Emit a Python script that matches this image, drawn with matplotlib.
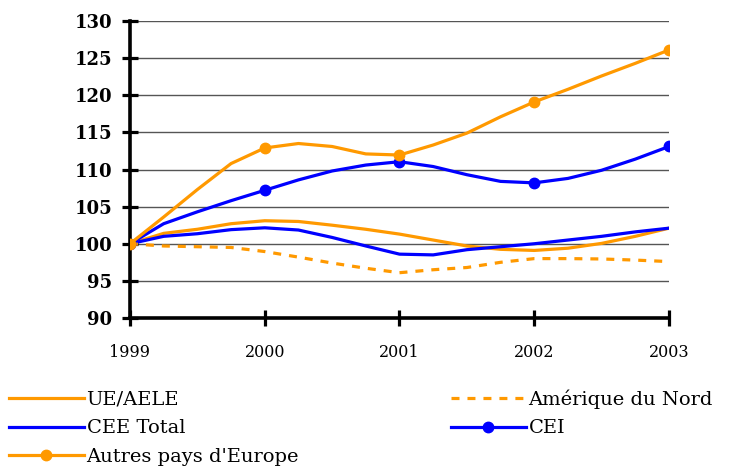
import matplotlib
matplotlib.use("Agg")
import matplotlib.pyplot as plt

# quarterly positions (markers only at whole years)
periods = [1999.0, 1999.25, 1999.5, 1999.75,
           2000.0, 2000.25, 2000.5, 2000.75,
           2001.0, 2001.25, 2001.5, 2001.75,
           2002.0, 2002.25, 2002.5, 2002.75,
           2003.0]
year_ticks = [1999, 2000, 2001, 2002, 2003]

ue_aele = [100.0, 101.4, 101.95, 102.7,
           103.1, 103.0, 102.5, 101.95,
           101.3, 100.5, 99.7, 99.25,
           99.1, 99.4, 100.05, 101.0,
           102.1]
amerique_nord = [100.0, 99.7, 99.6, 99.5,
                 98.95, 98.2, 97.4, 96.7,
                 96.1, 96.5, 96.8, 97.5,
                 98.0, 98.0, 97.95, 97.8,
                 97.6]
cee_total = [100.0, 101.0, 101.35, 101.9,
             102.15, 101.85, 100.85, 99.7,
             98.6, 98.5, 99.2, 99.6,
             100.0, 100.5, 101.0, 101.6,
             102.1]
cei = [100.0, 102.7, 104.3, 105.8,
       107.2, 108.6, 109.8, 110.6,
       111.05, 110.4, 109.3, 108.4,
       108.2, 108.8, 109.9, 111.4,
       113.1]
autres_europe = [100.0, 103.6, 107.3, 110.8,
                 112.9, 113.5, 113.1, 112.1,
                 111.95, 113.3, 114.9, 117.1,
                 119.1, 120.8, 122.6, 124.3,
                 126.1]

ORANGE = "#FF9900"
BLUE = "#0000FF"

plt.rcParams["font.family"] = ["DejaVu Serif", "DejaVu Sans"]

fig = plt.figure(figsize=(7.31, 4.70), dpi=100)
ax = fig.add_axes([0.1778, 0.3234, 0.7374, 0.6319])

lw = 2.3
ax.plot(periods, ue_aele, color=ORANGE, lw=lw, label="UE/AELE", zorder=3)
ax.plot(periods, cee_total, color=BLUE, lw=lw, label="CEE Total", zorder=3)
ax.plot(periods, autres_europe, color=ORANGE, lw=lw, marker="o", markersize=7.5,
        markevery=4, label="Autres pays d'Europe", zorder=6)
ax.plot(periods, amerique_nord, color=ORANGE, lw=lw, dashes=(2.5, 2.5),
        dash_capstyle="butt", label="Amérique du Nord", zorder=3)
ax.plot(periods, cei, color=BLUE, lw=lw, marker="o", markersize=7.5,
        markevery=4, label="CEI", zorder=4)

ax.set_xlim(1999, 2003)
ax.set_ylim(90, 130)
ax.set_xticks(year_ticks)
ax.set_xticklabels([str(y) for y in year_ticks], fontsize=11.5)
ax.set_yticks(range(90, 131, 5))
for lab in ax.get_yticklabels():
    lab.set_fontsize(13)
    lab.set_fontweight("bold")

for y in range(95, 131, 5):
    ax.axhline(y, color="#555555", lw=1.0, zorder=1)

for side in ["top", "right"]:
    ax.spines[side].set_visible(False)
for side in ["left", "bottom"]:
    ax.spines[side].set_linewidth(2.6)
    ax.spines[side].set_zorder(5)
ax.tick_params(axis="both", direction="inout", length=11.5, width=2.3,
               color="black")
ax.tick_params(axis="y", pad=7)
ax.tick_params(axis="x", pad=13)

handles, labels = ax.get_legend_handles_labels()
fig.legend(handles, labels, ncol=2, loc="upper left",
           bbox_to_anchor=(0.012, 0.172), frameon=False, fontsize=14,
           handlelength=3.85, handletextpad=0.15, columnspacing=7.8,
           labelspacing=0.55, borderaxespad=0, borderpad=0)

fig.savefig("out.png", dpi=100)
